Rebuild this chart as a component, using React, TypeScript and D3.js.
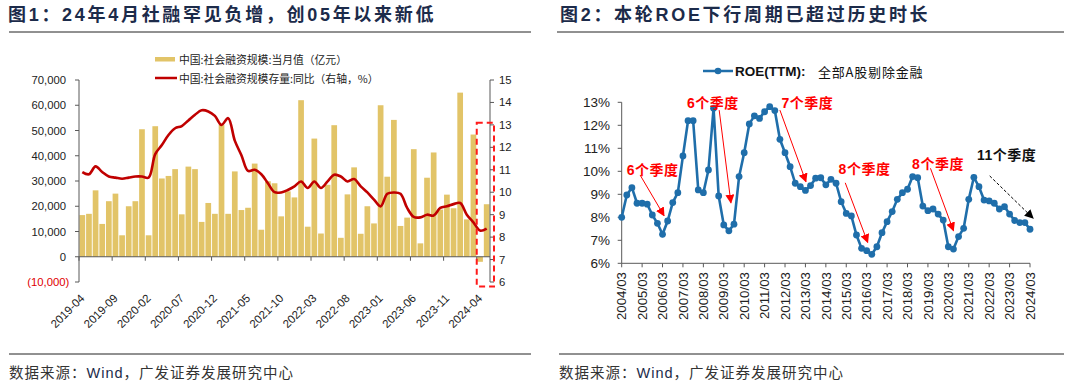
import React from 'react';
import * as d3 from 'd3';

const W = 1074;
const H = 390;
const CN = '"Noto Sans CJK SC", sans-serif';
const AR = '"Liberation Sans", Arial, "Noto Sans CJK SC", sans-serif';

// ---- 图1 数据 ----
// 2019-04 ... 2024-05 (62个月)
const months = d3.timeMonth.range(new Date(2019, 3, 1), new Date(2024, 5, 1)).map(d3.timeFormat('%Y-%m'));
// 社会融资规模:当月值(亿元)
const tsfMonthly = [
  16500, 17000, 26300, 13000, 22000, 25000, 8500, 20000, 22000, 50500,
  8500, 51700, 31000, 32000, 34700, 16800, 35700, 34700, 13800, 21300,
  17000, 52300, 17000, 33800, 18500, 19400, 36900, 10700, 29900, 29100,
  16000, 25900, 23500, 62000, 11900, 46800, 9200, 28500, 52100, 7500,
  24700, 35400, 9100, 20000, 13200, 60000, 31700, 54200, 12200, 15500,
  42600, 5300, 31300, 41300, 18700, 24600, 19200, 65000, 14800, 48400,
  -2000, 20800,
];
// 社会融资规模存量:同比(%)
const tsfStockYoy = [
  10.9, 10.8, 11.15, 10.9, 10.7, 10.65, 10.6, 10.65, 10.7, 10.7,
  10.65, 11.7, 12.1, 12.55, 12.85, 12.95, 13.2, 13.45, 13.65, 13.6,
  13.4, 13.0, 13.3, 12.3, 11.65, 10.95, 11.0, 10.8, 10.4, 10.0,
  9.99, 10.1, 10.26, 10.48, 10.19, 10.48, 10.19, 10.48, 10.78, 10.7,
  10.48, 10.59, 10.26, 9.99, 9.67, 9.37, 9.93, 9.99, 9.93, 9.3,
  8.9, 8.88, 9.0, 8.96, 9.3, 9.37, 9.47, 9.52, 9.0, 8.66,
  8.29, 8.38,
];
const leftTicks = [-10000, 0, 10000, 20000, 30000, 40000, 50000, 60000, 70000];
const rightTicks = [6, 7, 8, 9, 10, 11, 12, 13, 14, 15];

// ---- 图2 数据 ----
// ROE(TTM):全部A股剔除金融, 2004/03 ... 2024/03 季度
const roe = [
  8.0, 8.97, 9.29, 8.61, 8.61, 8.57, 8.1, 7.74, 7.26, 7.84,
  8.64, 9.07, 10.67, 12.2, 12.2, 9.19, 9.07, 10.06, 12.74, 8.93,
  7.67, 7.41, 7.7, 9.77, 10.81, 12.06, 12.41, 12.3, 12.59, 12.81,
  12.64, 11.39, 10.81, 10.2, 9.48, 9.33, 9.17, 9.38, 9.7, 9.72,
  9.41, 9.65, 9.48, 8.68, 8.17, 8.06, 7.23, 6.65, 6.55, 6.39,
  6.72, 7.33, 7.81, 8.25, 8.78, 9.07, 9.22, 9.77, 9.72, 8.49,
  8.29, 8.36, 8.14, 7.88, 6.72, 6.62, 7.16, 7.52, 8.78, 9.74,
  9.33, 8.75, 8.71, 8.61, 8.36, 8.46, 8.14, 7.86, 7.77, 7.77,
  7.48,
];
const quarters = d3.range(roe.length).map(i => d3.timeFormat('%Y/%m')(d3.timeMonth.offset(new Date(2004, 2, 1), 3 * i)));
const roeTicks = [6, 7, 8, 9, 10, 11, 12, 13];
// 注释: 文字位置和箭头 (季度序号, ROE值)
const roeNotes = [
  { text: '6个季度', tx: 1.0, tv: 9.84, x0: 3.6, v0: 9.84, x1: 8.3, v1: 8.07, dark: false },
  { text: '6个季度', tx: 12.8, tv: 12.75, x0: 19.1, v0: 12.66, x1: 21.4, v1: 8.63, dark: false },
  { text: '7个季度', tx: 31.3, tv: 12.75, x0: 31.0, v0: 12.66, x1: 36.1, v1: 9.55, dark: false },
  { text: '8个季度', tx: 42.5, tv: 9.9, x0: 43.8, v0: 9.5, x1: 48.2, v1: 6.91, dark: false },
  { text: '8个季度', tx: 56.9, tv: 10.12, x0: 60.5, v0: 10.13, x1: 65.0, v1: 7.42, dark: false },
  { text: '11个季度', tx: 69.6, tv: 10.51, x0: 72.1, v0: 9.8, x1: 80.6, v1: 7.96, dark: true },
];

const BAR = '#e2c468';
const RED = '#c00000';
const BLUE = '#1f6eaa';
const NAVY = '#1c2b4a';
const AXIS = '#595959';

function Chart1() {
  const x = d3.scaleBand<string>().domain(months).range([79, 490]).paddingInner(0.14).paddingOuter(0.07);
  const yL = d3.scaleLinear().domain([-10000, 70000]).range([282, 80]);
  const yR = d3.scaleLinear().domain([6, 15]).range([282, 80]);
  const step = x.step();
  const bound = (i: number) => x(months[i])! - (step * 0.14) / 2;
  const cx = (i: number) => x(months[i])! + x.bandwidth() / 2;
  const line = d3.line<number>().x((_, i) => cx(i)).y(d => yR(d)).curve(d3.curveCatmullRom.alpha(0.5));
  const fmt = d3.format(',');
  const labelIdx = d3.range(0, months.length, 5);
  const last = months.length - 2; // 2024-04

  return (
    <g>
      <text x={8} y={21} fontFamily={AR} fontSize={18} fontWeight={700} fill={NAVY} letterSpacing={2.7}>
        图1：24年4月社融罕见负增，创05年以来新低
      </text>
      <line x1={9} x2={531} y1={32} y2={32} stroke="#222" strokeWidth={1} />

      {/* legend */}
      <rect x={155} y={57} width={20} height={4.5} fill={BAR} />
      <text x={179} y={59} fontFamily={CN} fontSize={10.8} fill="#222" dominantBaseline="central">中国:社会融资规模:当月值（亿元）</text>
      <line x1={155} x2={177} y1={78} y2={78} stroke={RED} strokeWidth={2.5} />
      <text x={179} y={78} fontFamily={CN} fontSize={10.8} fill="#222" dominantBaseline="central">中国:社会融资规模存量:同比（右轴，%）</text>

      {/* bars */}
      {tsfMonthly.map((v, i) => (
        <rect key={i} x={x(months[i])} width={x.bandwidth()} y={Math.min(yL(v), yL(0))}
          height={Math.abs(yL(v) - yL(0))} fill={BAR} />
      ))}

      {/* axes */}
      <line x1={79} x2={79} y1={yL(70000)} y2={yL(-10000)} stroke={AXIS} />
      {leftTicks.map(t => (
        <g key={t}>
          <line x1={75} x2={79} y1={yL(t)} y2={yL(t)} stroke={AXIS} />
          <text x={t < 0 ? 69.3 : 66} y={yL(t)} textAnchor="end" dominantBaseline="central"
            fontFamily={AR} fontSize={11.3} fill={t < 0 ? '#e00000' : '#222'}>
            {t < 0 ? `(${fmt(-t)})` : fmt(t)}
          </text>
        </g>
      ))}
      <line x1={79} x2={490} y1={yL(0)} y2={yL(0)} stroke={AXIS} />
      {labelIdx.map(i => (
        <line key={i} x1={bound(i)} x2={bound(i)} y1={yL(0)} y2={yL(0) + 4} stroke={AXIS} />
      ))}
      {labelIdx.map(i => (
        <text key={i} transform={`translate(${cx(i) + 3},${299}) rotate(-45)`} textAnchor="end"
          fontFamily={AR} fontSize={11.5} fill="#222">{months[i]}</text>
      ))}

      <line x1={490} x2={490} y1={yR(15)} y2={yR(6)} stroke={AXIS} />
      {rightTicks.map(t => (
        <g key={t}>
          <line x1={490} x2={494} y1={yR(t)} y2={yR(t)} stroke={AXIS} />
          <text x={499} y={yR(t)} dominantBaseline="central" fontFamily={AR} fontSize={11.3} fill="#222">{t}</text>
        </g>
      ))}

      <path d={line(tsfStockYoy) || ''} fill="none" stroke={RED} strokeWidth={2.6} />

      {/* highlight box */}
      <rect x={bound(last)} y={yR(13.1)} width={494 - bound(last)} height={yR(5.8) - yR(13.1)}
        fill="none" stroke="#ff1a1a" strokeWidth={2} strokeDasharray="6,4" />

      <line x1={9} x2={531} y1={354} y2={354} stroke="#222" strokeWidth={1} />
      <text x={9} y={373} fontFamily={AR} fontSize={14.5} fill="#333" dominantBaseline="central" letterSpacing={1}>
        数据来源：<tspan fill={NAVY}>Wind</tspan>，广发证券发展研究中心
      </text>
    </g>
  );
}

function Chart2() {
  const x = d3.scaleLinear().domain([0, roe.length - 1]).range([621.7, 1030]);
  const y = d3.scaleLinear().domain([6, 13]).range([263.3, 102.3]);
  const line = d3.line<number>().x((_, i) => x(i)).y(d => y(d));
  const yearIdx = d3.range(0, quarters.length, 4);

  return (
    <g>
      <defs>
        <marker id="ahRed" viewBox="0 0 10 10" refX={9} refY={5} markerWidth={9} markerHeight={9}
          markerUnits="userSpaceOnUse" orient="auto">
          <path d="M0,0 L10,5 L0,10 Z" fill="#ff0000" />
        </marker>
        <marker id="ahBlack" viewBox="0 0 10 10" refX={9} refY={5} markerWidth={9} markerHeight={9}
          markerUnits="userSpaceOnUse" orient="auto">
          <path d="M0,0 L10,5 L0,10 Z" fill="#000" />
        </marker>
      </defs>
      <text x={560} y={21} fontFamily={AR} fontSize={18} fontWeight={700} fill={NAVY} letterSpacing={2.7}>
        图2：本轮ROE下行周期已超过历史时长
      </text>
      <line x1={557} x2={1064} y1={32} y2={32} stroke="#222" strokeWidth={1} />

      {/* legend */}
      <line x1={703} x2={733} y1={71} y2={71} stroke={BLUE} strokeWidth={2.5} />
      <circle cx={718} cy={71} r={3.3} fill={BLUE} />
      <text x={735} y={71} dominantBaseline="central" fontFamily={AR} fontSize={13.5} fontWeight={700} fill="#111">ROE(TTM):</text>
      <text x={818} y={71} dominantBaseline="central" fontFamily={CN} fontSize={13} fill="#111" letterSpacing={0.8}>全部A股剔除金融</text>

      {/* axes */}
      <line x1={621.7} x2={621.7} y1={y(13)} y2={y(6)} stroke={AXIS} />
      {roeTicks.map(t => (
        <g key={t}>
          <line x1={617.7} x2={621.7} y1={y(t)} y2={y(t)} stroke={AXIS} />
          <text x={610} y={y(t)} textAnchor="end" dominantBaseline="central" fontFamily={AR} fontSize={13.5} fill="#222">{t}%</text>
        </g>
      ))}
      <line x1={621.7} x2={1030} y1={y(6)} y2={y(6)} stroke={AXIS} />
      {yearIdx.map(i => (
        <g key={i}>
          <line x1={x(i)} x2={x(i)} y1={y(6)} y2={y(6) + 4} stroke={AXIS} />
          <text transform={`translate(${x(i) + 4.7},${272}) rotate(-90)`} textAnchor="end"
            fontFamily={AR} fontSize={13.3} fill="#222">{quarters[i]}</text>
        </g>
      ))}

      <path d={line(roe) || ''} fill="none" stroke={BLUE} strokeWidth={2.6} />
      {roe.map((v, i) => (
        <circle key={i} cx={x(i)} cy={y(v)} r={3.4} fill={BLUE} />
      ))}

      {/* annotations */}
      {roeNotes.map((n, k) => (
        <g key={k}>
          <line x1={x(n.x0)} y1={y(n.v0)} x2={x(n.x1)} y2={y(n.v1)}
            stroke={n.dark ? '#000' : '#ff0000'} strokeWidth={1}
            strokeDasharray={n.dark ? '3,2' : undefined}
            markerEnd={n.dark ? 'url(#ahBlack)' : 'url(#ahRed)'} />
          <text x={x(n.tx)} y={y(n.tv)} fontFamily={AR} fontSize={14} fontWeight={700}
            fill={n.dark ? '#111' : '#ff0000'} letterSpacing={0.5}>{n.text}</text>
        </g>
      ))}

      <line x1={559} x2={1064} y1={354} y2={354} stroke="#222" strokeWidth={1} />
      <text x={559} y={373} fontFamily={AR} fontSize={14.5} fill="#333" dominantBaseline="central" letterSpacing={1}>
        数据来源：<tspan fill={NAVY}>Wind</tspan>，广发证券发展研究中心
      </text>
    </g>
  );
}

export default function App() {
  return (
    <svg width={W} height={H} viewBox={`0 0 ${W} ${H}`}
      style={{ position: 'absolute', left: 0, top: 0, background: '#fff' }}>
      <Chart1 />
      <Chart2 />
    </svg>
  );
}
